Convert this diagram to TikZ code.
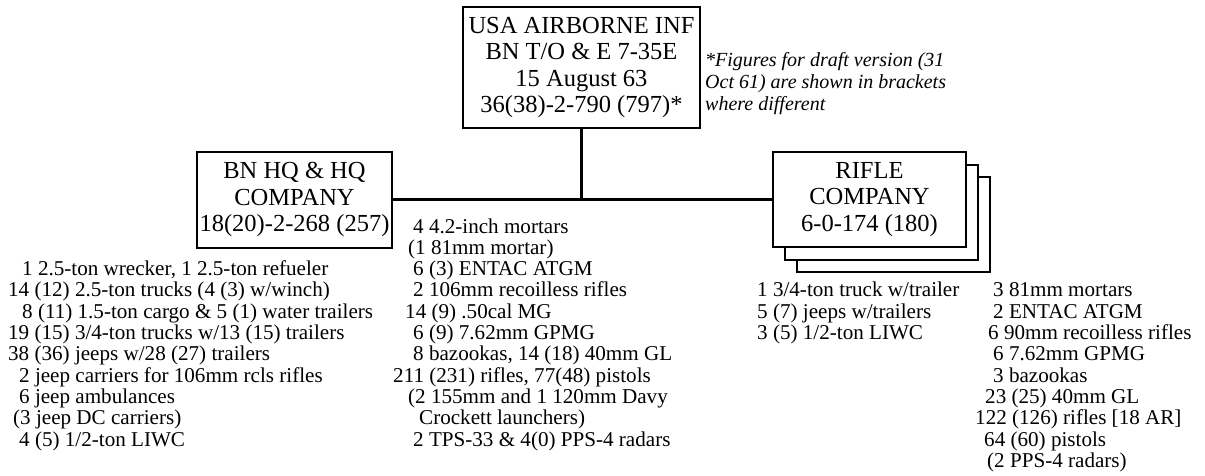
\documentclass[tikz,border=0pt]{standalone}
\usepackage{fontspec}
\setmainfont{Liberation Serif}
\newcommand\listcol[1]{{\fontsize{21.1}{21.3}\selectfont\begin{tabular}[t]{@{}l@{}}#1\end{tabular}}}
\newcommand\ind[1]{\hspace*{#1pt}}
\begin{document}
\begin{tikzpicture}[x=1pt,y=-1pt,
  unitbox/.style={draw, line width=2pt, fill=white, inner sep=0pt, align=center,
    font=\fontsize{24.5}{26.5}\selectfont},
  conn/.style={line width=3pt},
  listnode/.style={anchor=base west, inner sep=0pt}]
\useasboundingbox (0,0) rectangle (1205,475);
\fill[white] (0,0) rectangle (1205,475);

% top unit
\node[unitbox, minimum width=237pt, minimum height=121pt] (top) at (581.5,67.5)
  {USA AIRBORNE INF\\BN T/O \& E 7-35E\\15 August 63\\36(38)-2-790 (797)*};

% note
\node[listnode] (note) at (705,66)
  {{\fontsize{20}{22}\selectfont\itshape\begin{tabular}[t]{@{}l@{}}*Figures for draft version (31\\Oct 61) are shown in brackets\\where different\end{tabular}}};

% HQ company
\node[unitbox, minimum width=195pt, minimum height=96pt] (hq) at (294.5,199.5)
  {BN HQ \& HQ\\COMPANY\\18(20)-2-268 (257)};

% rifle company (stacked)
\node[unitbox, minimum width=193pt, minimum height=95pt] (rifle3) at (893.5,224.5) {};
\node[unitbox, minimum width=193pt, minimum height=95pt] (rifle2) at (881.5,212) {};
\node[unitbox, minimum width=193pt, minimum height=95pt] (rifle) at (869.5,199.5)
  {RIFLE\\COMPANY\\6-0-174 (180)};

% connectors
\draw[conn] (hq.east) -- (rifle.west);
\draw[conn] (top.south) -- (top.south |- hq.east);

% equipment lists
\node[listnode] (hqlist) at (8,275.6) {\listcol{%
\ind{14}1 2.5-ton wrecker, 1 2.5-ton refueler\\
14 (12) 2.5-ton trucks (4 (3) w/winch)\\
\ind{14}8 (11) 1.5-ton cargo \& 5 (1) water trailers\\
19 (15) 3/4-ton trucks w/13 (15) trailers\\
38 (36) jeeps w/28 (27) trailers\\
\ind{11}2 jeep carriers for 106mm rcls rifles\\
\ind{11}6 jeep ambulances\\
\ind{5}(3 jeep DC carriers)\\
\ind{11}4 (5) 1/2-ton LIWC}};

\node[listnode] (bnlist) at (393,233) {\listcol{%
\ind{20}4 4.2-inch mortars\\
\ind{15}(1 81mm mortar)\\
\ind{20}6 (3) ENTAC ATGM\\
\ind{20}2 106mm recoilless rifles\\
\ind{12}14 (9) .50cal MG\\
\ind{20}6 (9) 7.62mm GPMG\\
\ind{20}8 bazookas, 14 (18) 40mm GL\\
211 (231) rifles, 77(48) pistols\\
\ind{15}(2 155mm and 1 120mm Davy\\
\ind{26}Crockett launchers)\\
\ind{20}2 TPS-33 \& 4(0) PPS-4 radars}};

\node[listnode] (riflelistA) at (757,296.9) {\listcol{%
1 3/4-ton truck w/trailer\\
5 (7) jeeps w/trailers\\
3 (5) 1/2-ton LIWC}};

\node[listnode] (riflelistB) at (975,296.9) {\listcol{%
\ind{18}3 81mm mortars\\
\ind{18}2 ENTAC ATGM\\
\ind{13}6 90mm recoilless rifles\\
\ind{18}6 7.62mm GPMG\\
\ind{18}3 bazookas\\
\ind{10}23 (25) 40mm GL\\
122 (126) rifles [18 AR]\\
\ind{9}64 (60) pistols\\
\ind{12}(2 PPS-4 radars)}};
\end{tikzpicture}
\end{document}
